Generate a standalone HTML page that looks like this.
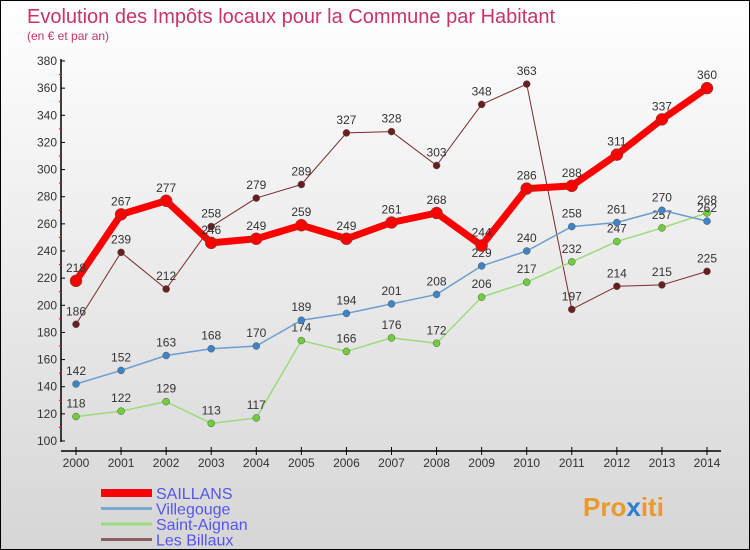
<!DOCTYPE html>
<html><head><meta charset="utf-8">
<style>
body{margin:0}
#c{width:750px;height:550px;position:relative;box-sizing:border-box;border:1px solid #000;background:linear-gradient(#fff,#d6d6d6);font-family:"Liberation Sans",sans-serif;overflow:hidden}
svg text{font-family:"Liberation Sans",sans-serif}
</style></head><body>
<div id="c">
<svg id="s" width="750" height="550">
<text x="26" y="22" font-size="20" fill="#c8336a">Evolution des Impôts locaux pour la Commune par Habitant</text>
<text x="26" y="39" font-size="12" fill="#c8336a">(en € et par an)</text>
<text x="582" y="515" font-size="26" font-weight="bold" fill="#e89a2a">Pro<tspan fill="#2a7fd0">x</tspan>iti</text>
</svg>
</div>
<script>
const years=[2000,2001,2002,2003,2004,2005,2006,2007,2008,2009,2010,2011,2012,2013,2014];
const yTicks=[100,120,140,160,180,200,220,240,260,280,300,320,340,360,380];
const saillans=[218,267,277,246,249,259,249,261,268,244,286,288,311,337,360];
const villegouge=[142,152,163,168,170,189,194,201,208,229,240,258,261,270,262];
const saintAignan=[118,122,129,113,117,174,166,176,172,206,217,232,247,257,268];
const lesBillaux=[186,239,212,258,279,289,327,328,303,348,363,197,214,215,225];
const names=["SAILLANS","Villegouge","Saint-Aignan","Les Billaux"];
const NS="http://www.w3.org/2000/svg",s=document.getElementById('s');
const X=i=>75+i*(706-75)/14, Y=v=>440-(v-100)*(380/280);
function el(t,a,p){const e=document.createElementNS(NS,t);for(const k in a)e.setAttribute(k,a[k]);(p||s).appendChild(e);return e;}
// axes
let ax=el('line',{x1:60,y1:58,x2:60,y2:441,stroke:'#000','stroke-width':1.5});

ax=el('line',{x1:60,y1:450,x2:720,y2:450,stroke:'#000','stroke-width':1.5});

yTicks.forEach((v,i)=>{el('line',{x1:60,y1:Y(v),x2:64,y2:Y(v),stroke:'#000'});
 if(i<yTicks.length-1)el('line',{x1:58,y1:Y(v+10),x2:61,y2:Y(v+10),stroke:'#f00'});
 const t=el('text',{x:56,y:Y(v)+4,'font-size':12,'text-anchor':'end',fill:'#333'});t.textContent=v;
 });
years.forEach((y,i)=>{el('line',{x1:X(i),y1:446,x2:X(i),y2:454,stroke:'#000'});
 const t=el('text',{x:X(i),y:466,'font-size':12,'text-anchor':'middle',fill:'#333'});t.textContent=y;
 });
const series=[[lesBillaux,'#7a2a2a','#6b1e1e',1,3.5,'les-billaux'],[saintAignan,'#9bdc7a','#6fcf3a',1.5,3.5,'saint-aignan'],[villegouge,'#6a9ed0','#3d85c6',1.5,3.5,'villegouge'],[saillans,'#f00','#f00',7,6,'saillans']];
series.forEach(([d,lc,pc,w,r,n])=>{
 const g=el('g',{});
 el('polyline',{points:d.map((v,i)=>X(i)+','+Y(v)).join(' '),fill:'none',stroke:lc,'stroke-width':w,'stroke-linejoin':'round'},g);
 d.forEach((v,i)=>{const c=el('circle',{cx:X(i),cy:Y(v),r:r,fill:pc,stroke:'#555','stroke-width':0.5},g);
  
  const t=el('text',{x:X(i),y:Y(v)-9,'font-size':12,'text-anchor':'middle',fill:'#333'},g);t.textContent=v;
  });
});
const lc=['#f00','#7aa9cc','#9bdc7a','#8a6060'],lw=[8,3,3,3];
names.forEach((n,i)=>{const y=492+i*15.5;
 const g=el('g',{});
 el('line',{x1:100,y1:y,x2:151,y2:y,stroke:lc[i],'stroke-width':lw[i]},g);
 const t=el('text',{x:155,y:y+6,'font-size':16,fill:'#5555ee'},g);t.textContent=n;});
</script>
</body></html>
